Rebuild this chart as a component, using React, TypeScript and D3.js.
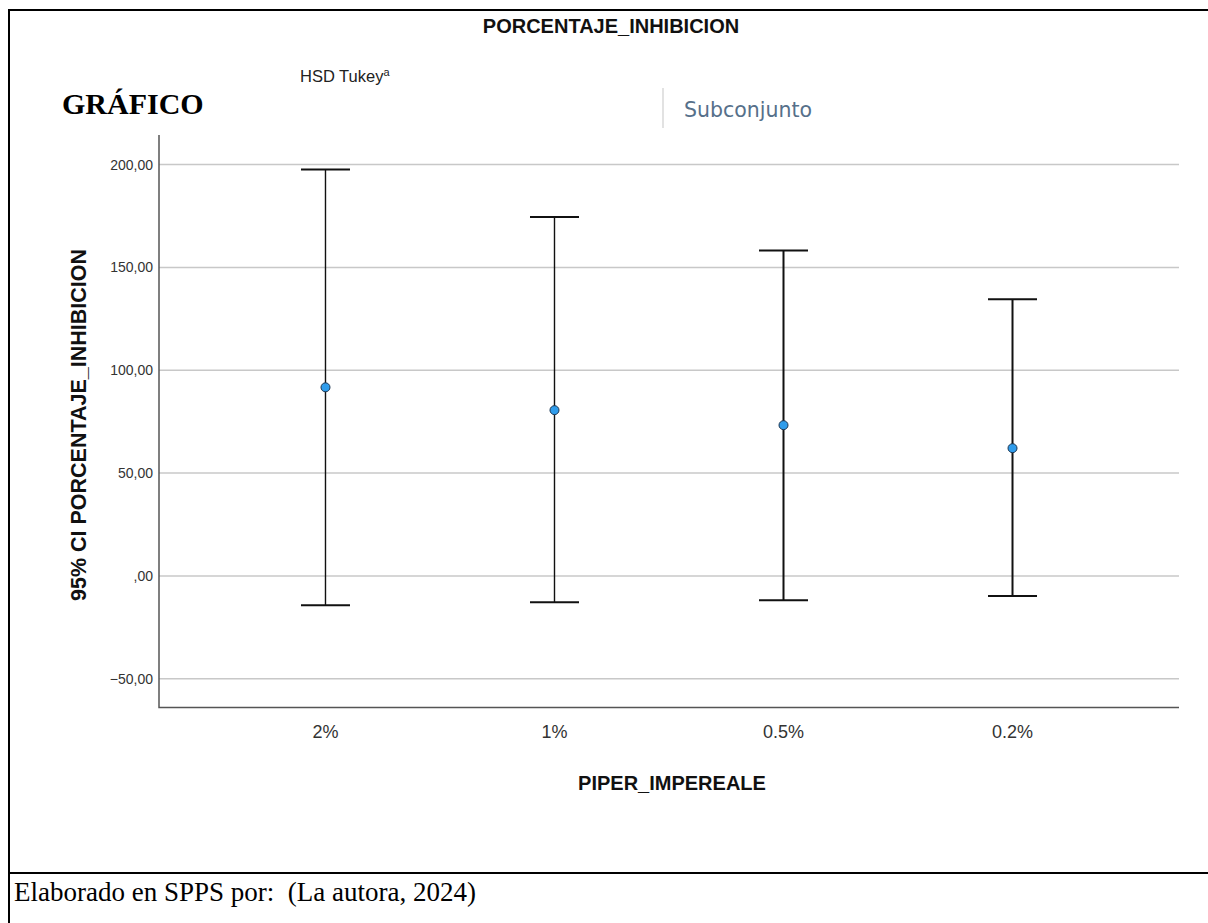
import React, { useEffect, useRef } from 'react';
import * as d3 from 'd3';

// PIPER_IMPEREALE groups and 95% CI of PORCENTAJE_INHIBICION
const categories = ['2%', '1%', '0.5%', '0.2%'];
const means = [91.7, 80.6, 73.3, 62.1];
const lower = [-14.3, -12.8, -11.8, -9.8];
const upper = [197.6, 174.5, 158.2, 134.5];
const yTicks = [-50, 0, 50, 100, 150, 200];

const W = 1208;
const H = 923;

const App = () => {
  const svgRef = useRef<SVGSVGElement>(null);

  useEffect(() => {
    const svg = d3.select(svgRef.current);
    svg.selectAll('*').remove();

    const left = 159;
    const right = 1179;
    const top = 135;
    const bottom = 707.5;

    const x = d3.scalePoint<string>()
      .domain(categories)
      .range([left, right])
      .padding(0.727);

    const y = d3.scaleLinear()
      .domain([-64, 214.4])
      .range([bottom, top]);

    const fmt = (v: number) => (v === 0 ? ',00' : d3.format('.2f')(v).replace('.', ','));

    svg.append('rect')
      .attr('width', W)
      .attr('height', H)
      .attr('fill', '#fff');

    // frame of the document table
    svg.append('path')
      .attr('d', `M1230,10 H9 V${H + 10}`)
      .attr('fill', 'none')
      .attr('stroke', '#000')
      .attr('stroke-width', 2);
    svg.append('line')
      .attr('x1', 8).attr('x2', W)
      .attr('y1', 873).attr('y2', 873)
      .attr('stroke', '#000')
      .attr('stroke-width', 2);

    svg.append('text')
      .attr('x', 611)
      .attr('y', 33)
      .attr('text-anchor', 'middle')
      .attr('font-family', 'Liberation Sans, Arial, sans-serif')
      .attr('font-weight', 'bold')
      .attr('font-size', 20)
      .attr('fill', '#111')
      .text('PORCENTAJE_INHIBICION');

    const hsd = svg.append('text')
      .attr('x', 300)
      .attr('y', 82)
      .attr('font-family', 'Liberation Sans, Arial, sans-serif')
      .attr('font-size', 16.5)
      .attr('fill', '#222');
    hsd.append('tspan').text('HSD Tukey');
    hsd.append('tspan').attr('font-size', 11).attr('dy', -6).text('a');

    svg.append('text')
      .attr('x', 62)
      .attr('y', 114)
      .attr('font-family', 'Liberation Serif, Times New Roman, serif')
      .attr('font-weight', 'bold')
      .attr('font-size', 30)
      .attr('fill', '#000')
      .text('GRÁFICO');

    svg.append('line')
      .attr('x1', 663).attr('x2', 663)
      .attr('y1', 88).attr('y2', 128)
      .attr('stroke', '#d8d8d8')
      .attr('stroke-width', 1.5);

    svg.append('text')
      .attr('x', 684)
      .attr('y', 117)
      .attr('font-family', 'DejaVu Sans, sans-serif')
      .attr('font-size', 20.5)
      .attr('fill', '#56708a')
      .text('Subconjunto');

    // grid
    svg.append('g')
      .selectAll('line')
      .data(yTicks)
      .join('line')
      .attr('x1', left).attr('x2', right)
      .attr('y1', d => y(d)).attr('y2', d => y(d))
      .attr('stroke', '#c8c8c8')
      .attr('stroke-width', 1.5);

    svg.append('g')
      .selectAll('text')
      .data(yTicks)
      .join('text')
      .attr('x', left - 6)
      .attr('y', d => y(d) + 5)
      .attr('text-anchor', 'end')
      .attr('font-family', 'Liberation Sans, Arial, sans-serif')
      .attr('font-size', 14)
      .attr('fill', '#333')
      .text(d => fmt(d));

    // axes
    svg.append('path')
      .attr('d', `M${left},${top} V${bottom} H${right}`)
      .attr('fill', 'none')
      .attr('stroke', '#555')
      .attr('stroke-width', 1.5);

    svg.append('g')
      .selectAll('text')
      .data(categories)
      .join('text')
      .attr('x', d => x(d) as number)
      .attr('y', 738)
      .attr('text-anchor', 'middle')
      .attr('font-family', 'Liberation Sans, Arial, sans-serif')
      .attr('font-size', 18)
      .attr('fill', '#333')
      .text(d => d);

    svg.append('text')
      .attr('x', 672)
      .attr('y', 790)
      .attr('text-anchor', 'middle')
      .attr('font-family', 'Liberation Sans, Arial, sans-serif')
      .attr('font-weight', 'bold')
      .attr('font-size', 20)
      .attr('fill', '#111')
      .text('PIPER_IMPEREALE');

    svg.append('text')
      .attr('transform', `translate(86,${(245 + 605) / 2}) rotate(-90)`)
      .attr('text-anchor', 'middle')
      .attr('font-family', 'Liberation Sans, Arial, sans-serif')
      .attr('font-weight', 'bold')
      .attr('font-size', 21.5)
      .attr('fill', '#111')
      .text('95% CI PORCENTAJE_INHIBICION');

    // error bars
    const bars = svg.append('g')
      .selectAll('g')
      .data(categories.map((c, i) => ({ c, m: means[i], lo: lower[i], hi: upper[i] })))
      .join('g');

    bars.append('line')
      .attr('x1', d => x(d.c) as number).attr('x2', d => x(d.c) as number)
      .attr('y1', d => y(d.hi)).attr('y2', d => y(d.lo))
      .attr('stroke', '#111')
      .attr('stroke-width', (d, i) => (i < 2 ? 1.4 : 2));

    [(d: any) => d.hi, (d: any) => d.lo].forEach(acc => {
      bars.append('line')
        .attr('x1', d => (x(d.c) as number) - 24.5)
        .attr('x2', d => (x(d.c) as number) + 24.5)
        .attr('y1', d => y(acc(d))).attr('y2', d => y(acc(d)))
        .attr('stroke', '#111')
        .attr('stroke-width', 2);
    });

    bars.append('circle')
      .attr('cx', d => x(d.c) as number)
      .attr('cy', d => y(d.m))
      .attr('r', 4.5)
      .attr('fill', '#2f9ceb')
      .attr('stroke', '#1d3550')
      .attr('stroke-width', 1);

    svg.append('text')
      .attr('x', 14)
      .attr('y', 901)
      .attr('font-family', 'Liberation Serif, Times New Roman, serif')
      .attr('font-size', 27)
      .attr('fill', '#000')
      .attr('xml:space', 'preserve')
      .style('white-space', 'pre')
      .text('Elaborado en SPPS por:  (La autora, 2024)');
  }, []);

  return (
    <svg
      ref={svgRef}
      width={W}
      height={H}
      style={{ position: 'absolute', left: 0, top: 0, display: 'block' }}
    />
  );
};

export default App;
